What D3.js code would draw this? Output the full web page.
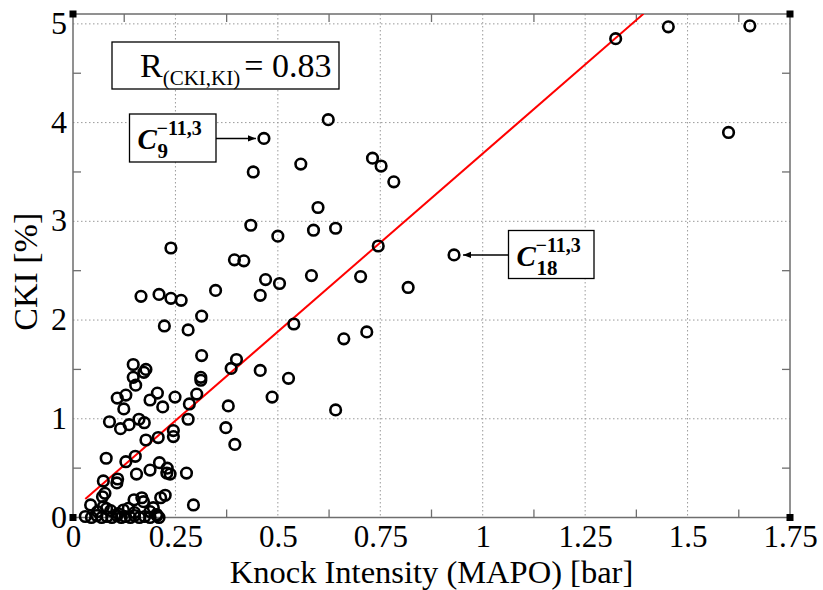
<!DOCTYPE html>
<html>
<head>
<meta charset="utf-8">
<script src="https://cdn.jsdelivr.net/npm/d3@7/dist/d3.min.js"></script>
<style>
  html, body { margin: 0; padding: 0; background: #fff; }
  svg { display: block; }
</style>
</head>
<body>
<svg id="chart" width="823" height="590"></svg>
<script>
// ---------------- DATA ----------------
const kiValues = [
  0.466, 0.623, 0.440, 0.556, 0.731, 0.752, 0.783, 0.598, 0.434, 0.500,
  0.587, 0.641, 0.745, 0.930, 0.394, 0.417, 0.470, 0.504, 0.457, 0.348,
  0.582, 0.702, 0.818, 0.314, 0.539, 0.717, 0.661, 0.239, 0.166, 0.210,
  0.239, 0.264, 0.223, 0.281, 0.314, 0.399, 0.386, 0.457, 0.526, 0.312,
  0.312, 0.486, 0.641, 0.379, 0.373, 0.395, 0.281, 0.302, 0.284, 0.249,
  0.219, 0.206, 0.188, 0.124, 0.108, 0.129, 0.147, 0.178, 0.173, 0.147,
  0.153, 0.089, 0.116, 0.137, 0.161, 0.174, 0.178, 0.208, 0.245, 0.245,
  0.081, 0.129, 0.152, 0.211, 0.230, 0.188, 0.155, 0.229, 0.237, 0.277,
  0.109, 0.107, 0.074, 0.078, 0.072, 0.043, 0.149, 0.168, 0.172, 0.214,
  0.225, 0.294, 1.3245, 1.453, 1.652, 1.600,
  0.030, 0.045, 0.058, 0.070, 0.083, 0.095, 0.107, 0.118, 0.128, 0.140,
  0.150, 0.162, 0.175, 0.188, 0.205, 0.210,
  0.082, 0.092, 0.123, 0.135, 0.150, 0.188, 0.204, 0.196, 0.110, 0.060, 0.074
];
const ckiValues = [
  3.84, 4.03, 3.50, 3.58, 3.64, 3.56, 3.40, 3.14, 2.96, 2.85,
  2.91, 2.93, 2.75, 2.66, 2.61, 2.60, 2.41, 2.37, 2.25, 2.30,
  2.45, 2.44, 2.33, 2.04, 1.96, 1.88, 1.81, 2.73, 2.24, 2.26,
  2.22, 2.20, 1.94, 1.90, 1.64, 1.60, 1.51, 1.49, 1.41, 1.42,
  1.39, 1.22, 1.09, 1.13, 0.91, 0.74, 0.995, 1.25, 1.15, 1.22,
  1.12, 1.26, 1.19, 1.10, 1.21, 1.24, 1.55, 1.50, 1.47, 1.42,
  1.34, 0.97, 0.90, 0.94, 0.995, 0.96, 0.785, 0.81, 0.88, 0.82,
  0.60, 0.565, 0.62, 0.555, 0.50, 0.48, 0.44, 0.45, 0.44, 0.45,
  0.39, 0.35, 0.37, 0.245, 0.21, 0.127, 0.18, 0.20, 0.16, 0.20,
  0.225, 0.127, 4.85, 4.97, 4.98, 3.90,
  0.01, 0.00, 0.02, 0.00, 0.01, 0.00, 0.02, 0.00, 0.01, 0.00,
  0.02, 0.00, 0.01, 0.00, 0.02, 0.00,
  0.09, 0.07, 0.076, 0.093, 0.05, 0.06, 0.03, 0.10, 0.04, 0.06, 0.11
];
const fitSlope = 3.607;
const fitIntercept = 0.079;
const fitRange = [0.03, 1.3925];

const xTickValues = [0, 0.25, 0.5, 0.75, 1, 1.25, 1.5, 1.75];
const xTickLabels = ["0", "0.25", "0.5", "0.75", "1", "1.25", "1.5", "1.75"];
const xMinorTicks = [0.125, 0.375, 0.625, 0.875, 1.125, 1.375, 1.625];
const yTickValues = [0, 1, 2, 3, 4, 5];
const yTickLabels = ["0", "1", "2", "3", "4", "5"];
const yMinorTicks = [0.5, 1.5, 2.5, 3.5, 4.5];

const xLabel = "Knock Intensity (MAPO) [bar]";
const yLabel = "CKI [%]";
const corrText = { main: "R", sub: "(CKI,KI)", rest: "= 0.83" };
const annotations = [
  { index: 0,  sub: "9",  sup: "\u221211,3" },
  { index: 13, sub: "18", sup: "\u221211,3" }
];

// ---------------- LAYOUT ----------------
const svg = d3.select("#chart");
const plot = { left: 73, right: 790, top: 14, bottom: 517.5 };
const x = d3.scaleLinear().domain([0, 1.75]).range([plot.left, plot.right]);
const y = d3.scaleLinear().domain([0, 5.1]).range([plot.bottom, plot.top]);
const serif = "'Liberation Serif', 'Times New Roman', serif";
const frameColor = "#6e6e6e";

// grid
const grid = svg.append("g");
grid.selectAll(".gx").data(xTickValues.slice(1, -1)).join("line")
  .attr("x1", d => x(d)).attr("x2", d => x(d))
  .attr("y1", plot.top).attr("y2", plot.bottom)
  .attr("stroke", "#9a9a9a").attr("stroke-width", 1).attr("stroke-dasharray", "1.5,2.5");
grid.selectAll(".gy").data(yTickValues.slice(1)).join("line")
  .attr("x1", plot.left).attr("x2", plot.right)
  .attr("y1", d => y(d)).attr("y2", d => y(d))
  .attr("stroke", "#9a9a9a").attr("stroke-width", 1).attr("stroke-dasharray", "1.5,2.5");

// frame
svg.append("rect")
  .attr("x", plot.left).attr("y", plot.top)
  .attr("width", plot.right - plot.left).attr("height", plot.bottom - plot.top)
  .attr("fill", "none").attr("stroke", frameColor).attr("stroke-width", 1.5);

// minor ticks (inward, all four sides)
const tk = 8;
const ticks = svg.append("g").attr("stroke", frameColor).attr("stroke-width", 1.3);
xMinorTicks.forEach(v => {
  ticks.append("line").attr("x1", x(v)).attr("x2", x(v)).attr("y1", plot.bottom).attr("y2", plot.bottom - tk);
  ticks.append("line").attr("x1", x(v)).attr("x2", x(v)).attr("y1", plot.top).attr("y2", plot.top + tk);
});
yMinorTicks.forEach(v => {
  ticks.append("line").attr("y1", y(v)).attr("y2", y(v)).attr("x1", plot.left).attr("x2", plot.left + tk);
  ticks.append("line").attr("y1", y(v)).attr("y2", y(v)).attr("x1", plot.right).attr("x2", plot.right - tk);
});

// axes labels via d3 axes
const xAxis = d3.axisBottom(x).tickValues(xTickValues)
  .tickFormat((d, i) => xTickLabels[i]).tickSize(0).tickPadding(7);
const gx = svg.append("g").attr("transform", `translate(0,${plot.bottom})`).call(xAxis);
gx.select(".domain").remove();
gx.selectAll("text").attr("font-family", serif).attr("font-size", 31).attr("fill", "#000");

const yAxis = d3.axisLeft(y).tickValues(yTickValues)
  .tickFormat((d, i) => yTickLabels[i]).tickSize(0).tickPadding(6);
const gy = svg.append("g").attr("transform", `translate(${plot.left},0)`).call(yAxis);
gy.select(".domain").remove();
gy.selectAll("text").attr("font-family", serif).attr("font-size", 32).attr("fill", "#000")
  .attr("dy", "0.3em");

// corner squares
const corners = [[0, 0], [1.75, 0], [0, 5.1], [1.75, 5.1]];
svg.selectAll(".corner").data(corners).join("rect")
  .attr("x", d => x(d[0]) - 3.5).attr("y", d => y(d[1]) - 3.5)
  .attr("width", 7).attr("height", 7).attr("fill", "#000");

// axis titles
svg.append("text").attr("x", (plot.left + plot.right) / 2).attr("y", 583)
  .attr("text-anchor", "middle").attr("font-family", serif).attr("font-size", 32.5)
  .text(xLabel);
svg.append("text").attr("transform", `translate(37,${(plot.top + plot.bottom) / 2 + 6}) rotate(-90)`)
  .attr("text-anchor", "middle").attr("font-family", serif).attr("font-size", 34)
  .text(yLabel);

// regression line
svg.append("clipPath").attr("id", "clip").append("rect")
  .attr("x", plot.left).attr("y", plot.top)
  .attr("width", plot.right - plot.left).attr("height", plot.bottom - plot.top);
svg.append("line")
  .attr("clip-path", "url(#clip)")
  .attr("x1", x(fitRange[0])).attr("y1", y(fitIntercept + fitSlope * fitRange[0]))
  .attr("x2", x(fitRange[1])).attr("y2", y(fitIntercept + fitSlope * fitRange[1]))
  .attr("stroke", "#ff0000").attr("stroke-width", 2);

// scatter points
const pts = kiValues.map((k, i) => ({ k, c: ckiValues[i] }));
svg.append("g").selectAll("circle").data(pts).join("circle")
  .attr("cx", d => x(d.k)).attr("cy", d => y(d.c)).attr("r", 5.3)
  .attr("fill", "none").attr("stroke", "#000").attr("stroke-width", 2.6);

// correlation box
svg.append("rect").attr("x", 112).attr("y", 42).attr("width", 227).attr("height", 47)
  .attr("fill", "#fff").attr("stroke", "#000").attr("stroke-width", 1.3);
const rt = svg.append("text").attr("x", 140).attr("y", 77).attr("font-family", serif).attr("font-size", 34);
rt.append("tspan").text(corrText.main);
rt.append("tspan").attr("dy", 8).attr("font-size", 21).text(corrText.sub);
rt.append("tspan").attr("dy", -8).attr("dx", 4).text(corrText.rest);

// arrow marker
svg.append("defs").append("marker").attr("id", "arrow")
  .attr("viewBox", "0 0 10 10").attr("refX", 10).attr("refY", 5)
  .attr("markerWidth", 8).attr("markerHeight", 8).attr("markerUnits", "userSpaceOnUse")
  .attr("orient", "auto")
  .append("path").attr("d", "M0,1 L10,5 L0,9 Z").attr("fill", "#000");

// annotations
const annLayout = [
  { bx: 129.5, by: 114, bw: 86.5, bh: 48, side: "right" },
  { bx: 508.5, by: 230.5, bw: 85.5, bh: 48, side: "left" }
];
annotations.forEach((a, i) => {
  const L = annLayout[i];
  const p = pts[a.index];
  const px = x(p.k), py = y(p.c);
  svg.append("rect").attr("x", L.bx).attr("y", L.by).attr("width", L.bw).attr("height", L.bh)
    .attr("fill", "#fff").attr("stroke", "#000").attr("stroke-width", 1.3);
  const x1 = L.side === "right" ? L.bx + L.bw : L.bx;
  const x2 = L.side === "right" ? px - 8 : px + 9;
  svg.append("line").attr("x1", x1).attr("y1", py).attr("x2", x2).attr("y2", py)
    .attr("stroke", "#000").attr("stroke-width", 1.5).attr("marker-end", "url(#arrow)");
  const t = svg.append("text").attr("x", L.bx + 8).attr("y", L.by + 35)
    .attr("font-family", serif).attr("font-weight", "bold");
  t.append("tspan").attr("font-size", 29).attr("font-style", "italic").text("C");
  t.append("tspan").attr("x", L.bx + 27).attr("y", L.by + 21).attr("font-size", 20).text(a.sup);
  t.append("tspan").attr("x", L.bx + 28).attr("y", L.by + 44).attr("font-size", 21).text(a.sub);
});
</script>
</body>
</html>
